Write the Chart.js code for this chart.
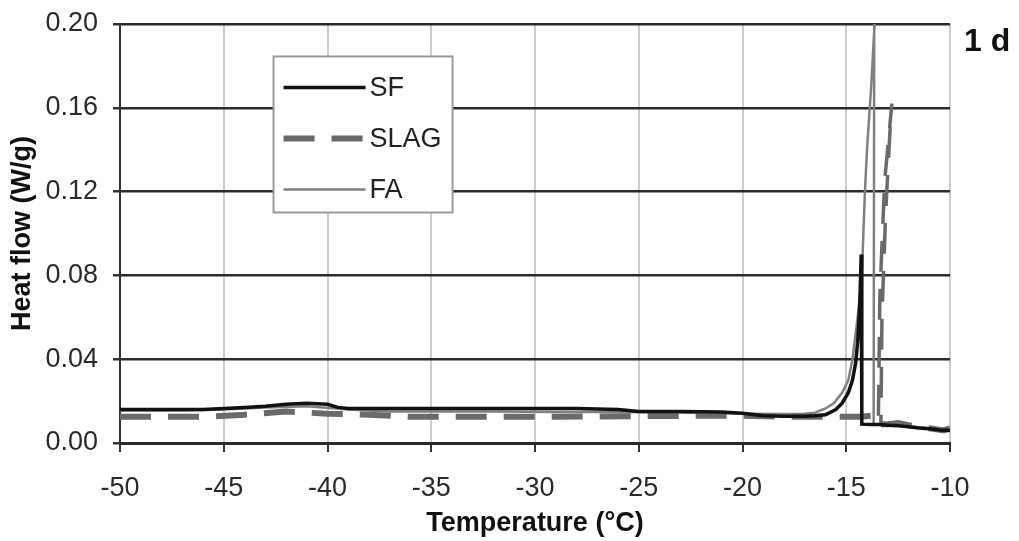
<!DOCTYPE html>
<html>
<head>
<meta charset="utf-8">
<script src="https://cdn.jsdelivr.net/npm/chart.js@4.4.0/dist/chart.umd.min.js"></script>
<style>
  html, body { margin: 0; padding: 0; background: #fff; }
  #wrap { width: 1019px; height: 541px; }
</style>
</head>
<body>
<div id="wrap"><canvas id="dsc"></canvas></div>
<script>
// data (temperature in °C, heat flow in W/g)
var seriesNames = ['SF', 'SLAG', 'FA'];

var sfTemp = [-50, -48, -46, -45, -44, -43, -42, -41, -40, -39.5, -39, -37, -35, -33, -30, -28, -26, -25, -23, -21, -20, -19, -18, -17, -16.5, -16, -15.5, -15.2, -14.9, -14.7, -14.55, -14.45, -14.35, -14.28, -14.25, -13.8, -13.4, -13, -12.5, -12, -11.5, -11, -10.5, -10];
var sfFlow = [0.016, 0.016, 0.016, 0.0165, 0.017, 0.0175, 0.0185, 0.019, 0.0185, 0.017, 0.0165, 0.0165, 0.0165, 0.0165, 0.0165, 0.0165, 0.016, 0.015, 0.015, 0.0148, 0.0142, 0.013, 0.0128, 0.0128, 0.013, 0.0135, 0.016, 0.019, 0.024, 0.03, 0.038, 0.048, 0.065, 0.09, 0.009, 0.0088, 0.0088, 0.0085, 0.0082, 0.0078, 0.0072, 0.0068, 0.0062, 0.006];

var slagTemp = [-50, -46, -44, -42, -40, -38, -36, -30, -25, -22, -20, -18, -16, -15, -14.3, -13.8, -13.45, -13.38, -13.15, -12.8, -12.86, -13.1, -13.28, -13.33, -13, -12.5, -12, -11, -10.3, -10];
var slagFlow = [0.0125, 0.0125, 0.0135, 0.015, 0.014, 0.0135, 0.0125, 0.0125, 0.0128, 0.013, 0.013, 0.0125, 0.0125, 0.0125, 0.0125, 0.013, 0.013, 0.07, 0.125, 0.162, 0.155, 0.11, 0.06, 0.009, 0.009, 0.0095, 0.0085, 0.007, 0.006, 0.007];

var faTemp = [-50, -47, -45, -43, -41, -39, -37, -35, -32, -29, -26, -23, -20, -18, -17, -16.5, -16, -15.6, -15.2, -14.9, -14.7, -14.45, -14.25, -14.1, -14.0, -13.8, -13.55, -13.65, -13.68, -13.3, -13, -12.5, -12, -11.5, -11, -10.5, -10];
var faFlow = [0.0155, 0.0155, 0.016, 0.017, 0.0175, 0.016, 0.015, 0.015, 0.015, 0.0148, 0.0148, 0.0145, 0.014, 0.0138, 0.014, 0.0145, 0.0165, 0.019, 0.024, 0.03, 0.04, 0.06, 0.08, 0.12, 0.14, 0.17, 0.215, 0.215, 0.009, 0.009, 0.0088, 0.0085, 0.008, 0.0075, 0.007, 0.0065, 0.006];

var xTicks = [-50, -45, -40, -35, -30, -25, -20, -15, -10];
var yTicks = [0, 0.04, 0.08, 0.12, 0.16, 0.2];

function toPoints(xs, ys) {
  return xs.map(function (x, i) { return { x: x, y: ys[i] }; });
}

var FONT = '"Liberation Sans", Arial, sans-serif';

// legend box drawn inside the plot, like the original
var insideLegend = {
  id: 'insideLegend',
  afterDraw: function (chart) {
    var ctx = chart.ctx;
    var x0 = chart.scales.x.getPixelForValue(-42.6);
    var y0 = chart.scales.y.getPixelForValue(0.1845);
    var w = 179, h = 156;
    ctx.save();
    ctx.fillStyle = '#fff';
    ctx.fillRect(x0, y0, w, h);
    ctx.strokeStyle = '#9a9a9a';
    ctx.lineWidth = 2;
    ctx.strokeRect(x0, y0, w, h);
    ctx.font = '27px ' + FONT;
    ctx.textBaseline = 'middle';
    ctx.fillStyle = '#222';
    chart.data.datasets.forEach(function (ds, i) {
      var ly = y0 + 31 + i * 51;
      ctx.beginPath();
      ctx.strokeStyle = ds.borderColor;
      ctx.lineWidth = ds.borderWidth;
      ctx.setLineDash(ds.borderDash || []);
      ctx.moveTo(x0 + 10, ly);
      ctx.lineTo(x0 + 92, ly);
      ctx.stroke();
      ctx.setLineDash([]);
      ctx.fillText(ds.label, x0 + 96, ly + 1);
    });
    // panel tag
    ctx.font = 'bold 32px ' + FONT;
    ctx.fillStyle = '#111';
    ctx.textAlign = 'left';
    ctx.fillText('1 d', 964, 42);
    ctx.restore();
  }
};

var config = {
  type: 'line',
  data: {
    datasets: [
      { label: seriesNames[0], data: toPoints(sfTemp, sfFlow), borderColor: '#111', borderWidth: 3.5, pointRadius: 0, tension: 0 },
      { label: seriesNames[1], data: toPoints(slagTemp, slagFlow), borderColor: '#6a6a6a', borderWidth: 6, borderDash: [31, 17], pointRadius: 0, tension: 0,
        // the steep freezing spike looks thinner in the original
        segment: { borderWidth: function (c) { return (c.p0.parsed.y > 0.03 || c.p1.parsed.y > 0.03) ? 3.5 : 6; } } },
      { label: seriesNames[2], data: toPoints(faTemp, faFlow), borderColor: '#808080', borderWidth: 2.5, pointRadius: 0, tension: 0 }
    ]
  },
  options: {
    responsive: true,
    maintainAspectRatio: false,
    animation: false,
    layout: { padding: { top: 24, right: 69, left: 0, bottom: 0 } },
    plugins: {
      legend: { display: false },
      tooltip: { enabled: false }
    },
    scales: {
      x: {
        type: 'linear',
        min: -50, max: -10,
        afterFit: function (s) { s.height = 98; s.paddingLeft = 0; s.paddingRight = 0; },
        afterBuildTicks: function (s) { s.ticks = xTicks.map(function (v) { return { value: v }; }); },
        grid: { color: '#cdcdcd', lineWidth: 2, tickLength: 9, tickColor: '#333', drawTicks: true },
        border: { color: '#2b2b2b', width: 3 },
        ticks: { color: '#2a2a2a', font: { family: FONT, size: 27 }, padding: 20, maxRotation: 0 },
        title: { display: true, text: 'Temperature (°C)', color: '#111', font: { family: FONT, size: 27, weight: 'bold' }, padding: { top: 0, bottom: 1 } }
      },
      y: {
        min: 0, max: 0.2,
        afterFit: function (s) { s.width = 120; s.paddingTop = 0; s.paddingBottom = 0; },
        afterBuildTicks: function (s) { s.ticks = yTicks.map(function (v) { return { value: v }; }); },
        grid: { color: '#2b2b2b', lineWidth: 2.5, tickLength: 7, tickColor: '#333' },
        border: { color: '#333', width: 2 },
        ticks: { color: '#2a2a2a', font: { family: FONT, size: 27 }, padding: 15, callback: function (v) { return v.toFixed(2); } },
        title: { display: true, text: 'Heat flow (W/g)', color: '#111', font: { family: FONT, size: 27, weight: 'bold' }, padding: { top: 6, bottom: 0 } }
      }
    }
  },
  plugins: [insideLegend]
};

new Chart(document.getElementById('dsc'), config);
</script>
</body>
</html>
